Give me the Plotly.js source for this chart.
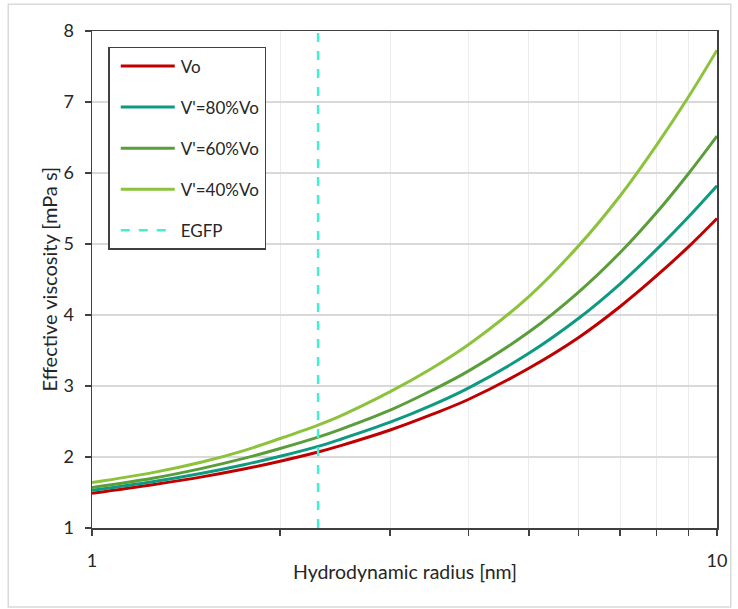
<!DOCTYPE html>
<html>
<head>
<meta charset="utf-8">
<script src="https://cdn.plot.ly/plotly-3.0.1.min.js"></script>
<style>html,body{margin:0;padding:0;background:#fff;}#chart{width:738px;height:609px;}</style>
</head>
<body>
<div id="chart"></div>
<script>
// Hydrodynamic radius [nm]
const radius = [1, 1.25, 1.5, 1.75, 2, 2.3, 2.5, 3, 3.5, 4, 5, 6, 7, 8, 9, 10];
// Effective viscosity [mPa s]
const vo     = [1.49, 1.61, 1.72, 1.83, 1.94, 2.07, 2.16, 2.38, 2.60, 2.81, 3.25, 3.68, 4.12, 4.55, 4.96, 5.36];
const v80    = [1.53, 1.65, 1.77, 1.89, 2.01, 2.15, 2.25, 2.49, 2.73, 2.97, 3.46, 3.95, 4.44, 4.92, 5.38, 5.82];
const v60    = [1.57, 1.70, 1.84, 1.98, 2.12, 2.28, 2.39, 2.66, 2.94, 3.21, 3.76, 4.32, 4.88, 5.44, 5.99, 6.52];
const v40    = [1.64, 1.78, 1.93, 2.09, 2.26, 2.45, 2.58, 2.92, 3.25, 3.58, 4.26, 4.97, 5.68, 6.39, 7.07, 7.73];
const egfpRadius = 2.3;
const yRange = [1, 8];
const seriesNames = ["Vo", "V'=80%Vo", "V'=60%Vo", "V'=40%Vo", "EGFP"];
const xTickVals = [1, 2, 3, 4, 5, 6, 7, 8, 9, 10];
const xTickText = ["1", "", "", "", "", "", "", "", "", "10"];
const yTickVals = [1, 2, 3, 4, 5, 6, 7, 8];
const xTitle = "Hydrodynamic radius [nm]";
const yTitle = "Effective viscosity [mPa s]";

const colors = ["#c00000", "#0e9a80", "#5a9e3c", "#8cc23c", "#40f0d0"];
const seriesData = [vo, v80, v60, v40];

const traces = seriesData.map((ys, i) => ({
  x: radius, y: ys, type: "scatter", mode: "lines",
  name: seriesNames[i], legendgroup: "g" + i,
  line: {color: colors[i], width: 3, shape: "spline", smoothing: 1}
}));
traces.push({
  x: [egfpRadius, egfpRadius], y: yRange, type: "scatter", mode: "lines",
  name: seriesNames[4], legendgroup: "g4",
  line: {color: colors[4], width: 2.5, dash: "dash"}
});

const font = "Lato, 'Open Sans', 'Liberation Sans', sans-serif";
const txt = "#262626";
const layout = {
  width: 738, height: 609,
  margin: {l: 92, r: 21, t: 31, b: 81},
  paper_bgcolor: "#ffffff", plot_bgcolor: "#ffffff",
  font: {family: font, size: 18, color: txt},
  showlegend: true,
  legend: {
    x: 0.026, y: 0.968, xanchor: "left", yanchor: "top",
    bgcolor: "#ffffff", bordercolor: "#404040", borderwidth: 1.5,
    font: {family: font, size: 17, color: txt},
    tracegroupgap: 16, itemwidth: 61
  },
  xaxis: {
    type: "log", range: [0, 1],
    tickmode: "array", tickvals: xTickVals, ticktext: xTickText,
    ticks: "outside", ticklen: 6, tickcolor: "#404040", tickwidth: 1.5,
    showline: true, linecolor: "#404040", linewidth: 1.5, mirror: true,
    showgrid: true, gridcolor: "#ececec", gridwidth: 1,
    zeroline: false, ticklabelstandoff: 10,
    tickfont: {size: 18, color: txt}
  },
  yaxis: {
    range: yRange,
    tickmode: "array", tickvals: yTickVals,
    ticks: "outside", ticklen: 6, tickcolor: "#404040", tickwidth: 1.5,
    showline: true, linecolor: "#404040", linewidth: 1.5, mirror: true,
    showgrid: true, gridcolor: "#d9d9d9", gridwidth: 1.5,
    zeroline: false, ticklabelstandoff: 7,
    tickfont: {size: 18, color: txt}
  },
  annotations: [
    {text: xTitle, xref: "paper", yref: "paper", x: 0.5, y: -0.0885,
     xanchor: "center", yanchor: "middle", showarrow: false,
     font: {size: 19.5, color: txt}},
    {text: yTitle, xref: "paper", yref: "paper", x: -0.0704, y: 0.5,
     xanchor: "center", yanchor: "middle", showarrow: false, textangle: -90,
     font: {size: 20, color: txt}}
  ],
  shapes: [{
    type: "rect", xref: "paper", yref: "paper",
    x0: -0.134, x1: 1.022, y0: -0.159, y1: 1.054,
    line: {color: "#d9d9d9", width: 1.5}, fillcolor: "rgba(0,0,0,0)", layer: "below"
  }]
};

Plotly.newPlot("chart", traces, layout, {displayModeBar: false, staticPlot: true}).then(gd => {
  // lengthen legend line samples to match the reference's longer swatches
  gd.querySelectorAll(".legend .legendlines path, .legend path.js-line").forEach(p => {
    p.setAttribute("d", "M11,0h54");
  });
});
</script>
</body>
</html>
